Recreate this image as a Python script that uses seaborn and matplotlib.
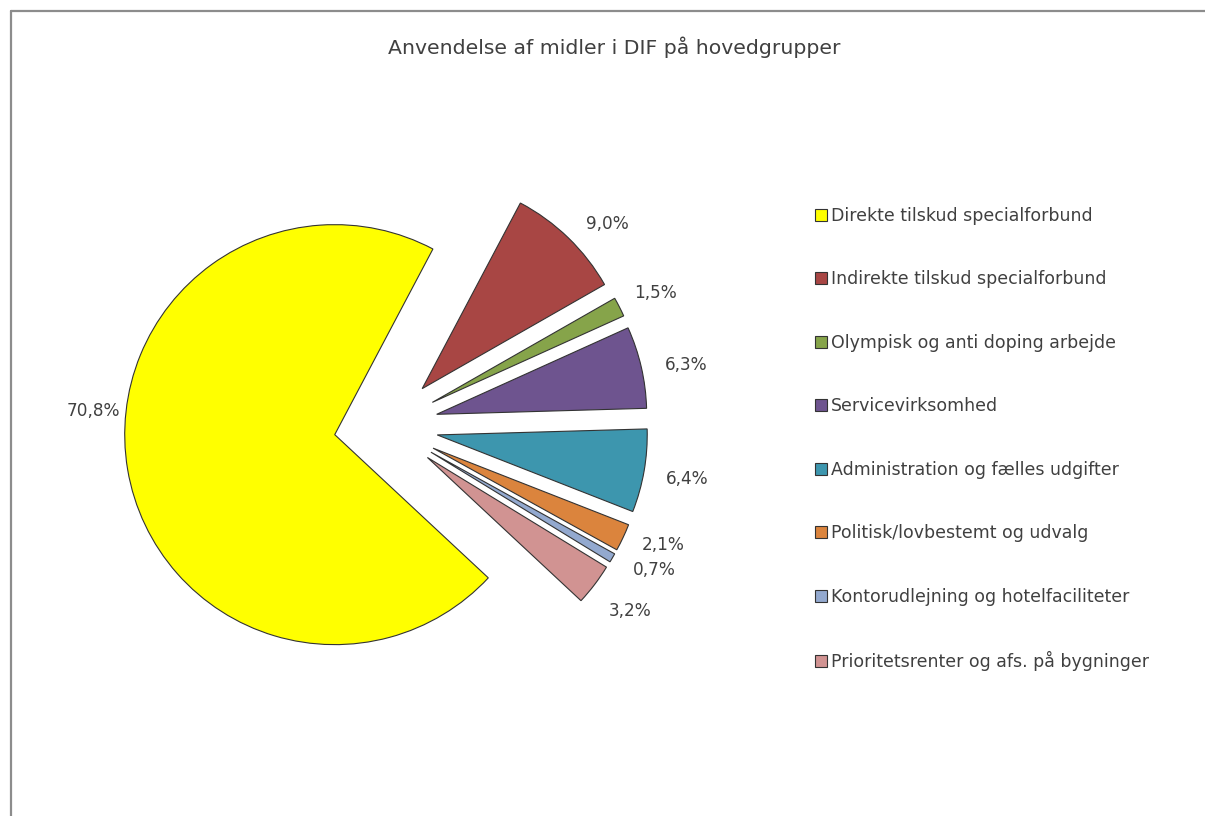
import matplotlib
matplotlib.use("Agg")
import matplotlib.pyplot as plt
import seaborn as sns
from matplotlib.lines import Line2D

categories = [
    "Direkte tilskud specialforbund",
    "Indirekte tilskud specialforbund",
    "Olympisk og anti doping arbejde",
    "Servicevirksomhed",
    "Administration og fælles udgifter",
    "Politisk/lovbestemt og udvalg",
    "Kontorudlejning og hotelfaciliteter",
    "Prioritetsrenter og afs. på bygninger",
]
shares = [70.8, 9.0, 1.5, 6.3, 6.4, 2.1, 0.7, 3.2]
colors = ["#FFFF00", "#A84644", "#86A44A", "#6E548F", "#3D96AE",
          "#DB843D", "#93A9CF", "#D19392"]
title = "Anvendelse af midler i DIF på hovedgrupper"

sns.set_theme(style="white")
plt.rcParams["font.family"] = ["DejaVu Sans"]
TXT = "#404040"

W, H = 1205, 816
fig = plt.figure(figsize=(W / 100, H / 100), dpi=100)
fig.patch.set_facecolor("white")
ax = fig.add_axes([0, 0, 1, 1])
ax.set_xlim(0, W)
ax.set_ylim(0, H)
ax.set_aspect("equal")
ax.axis("off")

wedges, texts, autotexts = ax.pie(
    shares,
    colors=colors,
    explode=[52] * len(shares),
    center=(386, H - 426),
    radius=210,
    startangle=-43,
    counterclock=False,
    autopct=lambda p: f"{p:.1f}%".replace(".", ","),
    pctdistance=1.21,
    wedgeprops=dict(edgecolor="#333333", linewidth=0.8),
    textprops=dict(color=TXT, fontsize=12.2),
    frame=True,
)
ax.axis("off")
# small nudges of label placement, as Excel's best-fit did
nudges = {0: None, 1: (8, -18), 2: (-3, -6), 3: (2, -8), 5: (0, 11), 6: (4, 10)}
for i, d in nudges.items():
    if d is None:
        autotexts[i].set_position((93, H - 411))
    else:
        x, y = autotexts[i].get_position()
        autotexts[i].set_position((x + d[0], y + d[1]))

leg = fig.legend(
    wedges, categories,
    loc="center left",
    bbox_to_anchor=(808 / W, 1 - 439 / H),
    frameon=False,
    fontsize=12.5,
    labelspacing=2.62,
    handlelength=0.7,
    handleheight=0.7,
    handletextpad=0.22,
    borderaxespad=0,
)
for t in leg.get_texts():
    t.set_color(TXT)

fig.text(614 / W, 1 - 47 / H, title, ha="center", va="center",
         fontsize=14.7, color=TXT)

# chart border (left and top visible)
bc = "#8c8c8c"
fig.add_artist(Line2D([11 / W, 11 / W], [0, 1 - 11 / H], color=bc, lw=1.6,
                      transform=fig.transFigure))
fig.add_artist(Line2D([11 / W, 1], [1 - 11 / H, 1 - 11 / H], color=bc, lw=1.6,
                      transform=fig.transFigure))

fig.savefig("out.png", dpi=100)
